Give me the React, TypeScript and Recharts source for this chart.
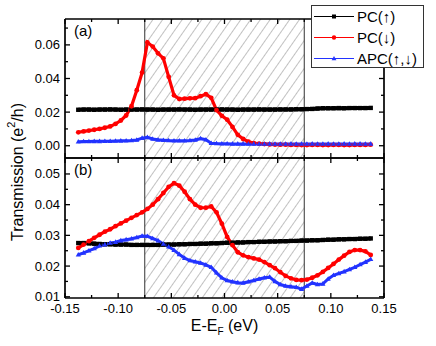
import React from "react";
import { LineChart, Line, XAxis, YAxis, ReferenceArea, ReferenceLine, Legend } from "recharts";

// energy grid (eV)
const energy = [
  -0.1375, -0.1325, -0.1275, -0.1225, -0.1175, -0.1125, -0.1075, -0.1025, -0.0975, -0.0925,
  -0.0875, -0.0825, -0.0775, -0.0725, -0.0675, -0.0625, -0.0575, -0.0525, -0.0475, -0.0425,
  -0.0375, -0.0325, -0.0275, -0.0225, -0.0175, -0.0125, -0.0075, -0.0025, 0.0025, 0.0075,
  0.0125, 0.0175, 0.0225, 0.0275, 0.0325, 0.0375, 0.0425, 0.0475, 0.0525, 0.0575,
  0.0625, 0.0675, 0.0725, 0.0775, 0.0825, 0.0875, 0.0925, 0.0975, 0.1025, 0.1075,
  0.1125, 0.1175, 0.1225, 0.1275, 0.1325, 0.1375,
];

// panel (a)
const pcUpA = [
  0.0214, 0.0215, 0.0215, 0.0214, 0.0215, 0.0215, 0.0216, 0.0215, 0.0214, 0.0215,
  0.0215, 0.0215, 0.0216, 0.0215, 0.0215, 0.0214, 0.0215, 0.0215, 0.0215, 0.0216,
  0.0215, 0.0215, 0.0214, 0.0215, 0.0215, 0.0215, 0.0215, 0.0216, 0.0215, 0.0215,
  0.0214, 0.0215, 0.0215, 0.0215, 0.0216, 0.0215, 0.0215, 0.0215, 0.0216, 0.0216,
  0.0216, 0.0217, 0.0217, 0.0218, 0.0219, 0.0221, 0.0223, 0.0223, 0.0223, 0.0224,
  0.0223, 0.0224, 0.0224, 0.0224, 0.0224, 0.0225,
];
const pcDownA = [
  0.008, 0.0085, 0.009, 0.0095, 0.01, 0.0107, 0.0115, 0.013, 0.015, 0.018,
  0.0235, 0.033, 0.0435, 0.0615, 0.059, 0.055, 0.052, 0.041, 0.03, 0.0278,
  0.028, 0.0282, 0.0283, 0.0295, 0.0307, 0.0285, 0.0212, 0.0178, 0.0155, 0.0112,
  0.0065, 0.004, 0.0024, 0.0016, 0.0012, 0.001, 0.0008, 0.0007, 0.0006, 0.0006,
  0.0005, 0.0005, 0.0004, 0.0004, 0.0005, 0.0005, 0.0004, 0.0004, 0.0005, 0.0005,
  0.0004, 0.0004, 0.0005, 0.0005, 0.0005, 0.0006,
];
const apcA = [
  0.0024, 0.0025, 0.0025, 0.0026, 0.0026, 0.0027, 0.0027, 0.0028, 0.0029, 0.003,
  0.0031, 0.0034, 0.0045, 0.005, 0.004, 0.0035, 0.0033, 0.0031, 0.003, 0.003,
  0.003, 0.0031, 0.0034, 0.0043, 0.0036, 0.0015, 0.0013, 0.0012, 0.0012, 0.0011,
  0.0011, 0.0011, 0.001, 0.0011, 0.001, 0.001, 0.0011, 0.001, 0.001, 0.001,
  0.0011, 0.001, 0.001, 0.001, 0.0011, 0.001, 0.001, 0.0011, 0.001, 0.001,
  0.0011, 0.001, 0.0011, 0.0011, 0.001, 0.0011,
];

// panel (b)
const pcUpB = [
  0.0275, 0.0275, 0.0274, 0.0273, 0.0272, 0.0271, 0.0271, 0.027, 0.027, 0.027,
  0.0269, 0.0269, 0.0269, 0.0269, 0.0269, 0.0269, 0.027, 0.027, 0.027, 0.0271,
  0.0271, 0.0272, 0.0272, 0.0273, 0.0273, 0.0274, 0.0274, 0.0275, 0.0276, 0.0276,
  0.0277, 0.0277, 0.0278, 0.0278, 0.0279, 0.0279, 0.028, 0.028, 0.0281, 0.0281,
  0.0282, 0.0282, 0.0283, 0.0283, 0.0284, 0.0284, 0.0285, 0.0286, 0.0286, 0.0287,
  0.0287, 0.0288, 0.0288, 0.0289, 0.0289, 0.029,
];
const pcDownB = [
  0.0259, 0.027, 0.0281, 0.0292, 0.0302, 0.0312, 0.032, 0.033, 0.0339, 0.0348,
  0.0357, 0.0366, 0.0375, 0.0386, 0.04, 0.0418, 0.0438, 0.0458, 0.047, 0.0462,
  0.0442, 0.0418, 0.04, 0.039, 0.039, 0.0394, 0.0375, 0.0338, 0.0295, 0.0268,
  0.0245, 0.0235, 0.0229, 0.0225, 0.0221, 0.0213, 0.0203, 0.0193, 0.018, 0.0168,
  0.016, 0.0155, 0.0154, 0.0156, 0.0162, 0.017, 0.0181, 0.0194, 0.0207, 0.0221,
  0.0234, 0.0246, 0.0252, 0.0252, 0.0248, 0.0236,
];
const apcB = [
  0.0237, 0.0243, 0.025, 0.0257, 0.0266, 0.027, 0.0275, 0.0278, 0.0283, 0.0286,
  0.0289, 0.0293, 0.0298, 0.0297, 0.029, 0.0283, 0.0272, 0.0263, 0.0252, 0.0238,
  0.0226, 0.0218, 0.0214, 0.021, 0.0204, 0.0196, 0.0178, 0.0162, 0.0153, 0.0149,
  0.0146, 0.0145, 0.0149, 0.0153, 0.0158, 0.0162, 0.0164, 0.015, 0.014, 0.0135,
  0.0133, 0.0131, 0.0125, 0.0135, 0.0145, 0.014, 0.0142, 0.0158, 0.017, 0.0176,
  0.0182, 0.0189, 0.0196, 0.0205, 0.0213, 0.0222,
];

const seriesNames = ["PC(\u2191)", "PC(\u2193)", "APC(\u2191,\u2193)"];
const seriesColors = ["#000000", "#ff0000", "#2233ff"];

const xTicks = [-0.15, -0.125, -0.1, -0.075, -0.05, -0.025, 0, 0.025, 0.05, 0.075, 0.1, 0.125, 0.15];
const xMajors = [-0.15, -0.1, -0.05, 0, 0.05, 0.1, 0.15];
const yTicksA = [0, 0.01, 0.02, 0.03, 0.04, 0.05, 0.06, 0.07];
const yMajorsA = [0, 0.02, 0.04, 0.06];
const yTicksB = [0.01, 0.015, 0.02, 0.025, 0.03, 0.035, 0.04, 0.045, 0.05];
const yMajorsB = [0.01, 0.02, 0.03, 0.04, 0.05];
const band = [-0.075, 0.075];

const FONT = '"Liberation Sans", Arial, Helvetica, sans-serif';
const W = 436;
const H = 346;

const rows = (up: number[], down: number[], apc: number[]) =>
  energy.map((e, i) => ({ e, up: up[i], down: down[i], apc: apc[i] }));
const dataA = rows(pcUpA, pcDownA, apcA);
const dataB = rows(pcUpB, pcDownB, apcB);

// markers
const Square = (p: any) =>
  p.cx == null ? null : <rect key={p.index} x={p.cx - 2.2} y={p.cy - 2.2} width={4.4} height={4.4} fill={seriesColors[0]} />;
const Dot = (p: any) =>
  p.cx == null ? null : <circle key={p.index} cx={p.cx} cy={p.cy} r={2.4} fill={seriesColors[1]} />;
const Tri = (p: any) =>
  p.cx == null ? null : (
    <path key={p.index} d={`M${p.cx},${p.cy - 2.8}L${p.cx + 2.6},${p.cy + 1.8}L${p.cx - 2.6},${p.cy + 1.8}Z`} fill={seriesColors[2]} />
  );

// inward ticks, long at majors, short otherwise
const makeTick = (side: string, majors: number[], withText: boolean) => (p: any) => {
  const { x, y, payload } = p;
  const v = payload.value;
  const major = majors.some((m) => Math.abs(m - v) < 1e-9);
  const len = major ? 5 : 3;
  let ln;
  let txt = null;
  if (side === "left") {
    ln = <line x1={x} x2={x + len} y1={y} y2={y} />;
    if (withText && major)
      txt = <text x={x - 5} y={y + 4.5} textAnchor="end">{v.toFixed(2)}</text>;
  } else if (side === "right") {
    ln = <line x1={x} x2={x - len} y1={y} y2={y} />;
  } else if (side === "top") {
    ln = <line x1={x} x2={x} y1={y} y2={y + len} />;
  } else {
    ln = <line x1={x} x2={x} y1={y} y2={y - len} />;
    if (withText && major)
      txt = <text x={x} y={y + 15} textAnchor="middle">{v.toFixed(2)}</text>;
  }
  return (
    <g stroke="none" fill="#000" fontFamily={FONT} fontSize={13}>
      <g stroke="#000" strokeWidth={1.3}>{ln}</g>
      {txt}
    </g>
  );
};

const axisLine = { stroke: "#000", strokeWidth: 1.7 };

const panelTag = (tag: string) => (p: any) => (
  <text x={p.viewBox.x + 9} y={p.viewBox.y + p.viewBox.height + 17} fontFamily={FONT} fontSize={15} fill="#000">
    {tag}
  </text>
);

const yTitle = () => (
  <text x={17} y={172} transform="rotate(-90 17 172)" textAnchor="middle" dominantBaseline="central" fontFamily={FONT} fontSize={16} fill="#000">
    Transmission (e<tspan dy={-6} fontSize={11}>2</tspan>
    <tspan dy={6}>/h)</tspan>
  </text>
);

const xTitle = (p: any) => (
  <text x={p.viewBox.x + p.viewBox.width / 2} y={p.viewBox.y + 33} textAnchor="middle" fontFamily={FONT} fontSize={16} fill="#000">
    E-E<tspan dy={4} fontSize={10}>F</tspan>
    <tspan dy={-4}> (eV)</tspan>
  </text>
);

const LegendBox = () => (
  <div style={{ background: "#fff", border: "1px solid #333", width: 111, height: 61, fontFamily: FONT, fontSize: 15, color: "#000" }}>
    {seriesNames.map((n, i) => (
      <div key={n} style={{ display: "flex", alignItems: "center", height: 21 }}>
        <svg width={44} height={21} style={{ display: "block" }}>
          <line x1={2} x2={42} y1={10.5} y2={10.5} stroke={seriesColors[i]} strokeWidth={1} />
          {i === 0 && <rect x={20} y={8.5} width={4} height={4} fill={seriesColors[0]} />}
          {i === 1 && <circle cx={22} cy={10.5} r={2.2} fill={seriesColors[1]} />}
          {i === 2 && <path d="M22,8 L24.4,12.2 L19.6,12.2 Z" fill={seriesColors[2]} />}
        </svg>
        <span style={{ marginLeft: 1, whiteSpace: "nowrap" }}>{n}</span>
      </div>
    ))}
  </div>
);

const Hatch = () => (
  <svg width={0} height={0} style={{ position: "absolute" }}>
    <defs>
      <pattern id="hatch" width={8} height={8} patternUnits="userSpaceOnUse" patternTransform="rotate(35)">
        <line x1={0} y1={0} x2={0} y2={8} stroke="#5a5a5a" strokeWidth={0.75} />
      </pattern>
    </defs>
  </svg>
);

const renderLines = () => [
  <Line key="up" xAxisId="b" yAxisId="l" type="linear" dataKey="up" name={seriesNames[0]} stroke={seriesColors[0]} strokeWidth={4} dot={Square} activeDot={false} isAnimationActive={false} />,
  <Line key="down" xAxisId="b" yAxisId="l" type="linear" dataKey="down" name={seriesNames[1]} stroke={seriesColors[1]} strokeWidth={3.2} dot={Dot} activeDot={false} isAnimationActive={false} />,
  <Line key="apc" xAxisId="b" yAxisId="l" type="linear" dataKey="apc" name={seriesNames[2]} stroke={seriesColors[2]} strokeWidth={3} dot={Tri} activeDot={false} isAnimationActive={false} />,
];

const renderBand = () => [
  <ReferenceArea key="area" xAxisId="b" yAxisId="l" x1={band[0]} x2={band[1]} fill="url(#hatch)" fillOpacity={1} stroke="none" />,
  <ReferenceLine key="l0" xAxisId="b" yAxisId="l" x={band[0]} stroke="#333" strokeWidth={1} />,
  <ReferenceLine key="l1" xAxisId="b" yAxisId="l" x={band[1]} stroke="#333" strokeWidth={1} />,
];

export default function App() {
  return (
    <div style={{ position: "absolute", left: 0, top: 0, width: W, height: H, background: "#fff", fontFamily: FONT }}>
      <Hatch />
      <div style={{ position: "absolute", left: 0, top: 0 }}>
        <LineChart width={W} height={H} data={dataA} margin={{ top: 14, right: 47, bottom: 183, left: 0 }}>
          <XAxis xAxisId="b" dataKey="e" type="number" domain={[-0.15, 0.15]} ticks={xTicks} interval={0} allowDataOverflow orientation="bottom" height={5} axisLine={axisLine} tickLine={false} tickSize={0} tickMargin={0} tick={makeTick("bottom", xMajors, false)} />
          <XAxis xAxisId="t" dataKey="e" type="number" domain={[-0.15, 0.15]} ticks={xTicks} interval={0} allowDataOverflow orientation="top" height={5} axisLine={axisLine} tickLine={false} tickSize={0} tickMargin={0} tick={makeTick("top", xMajors, false)} label={panelTag("(a)")} />
          <YAxis yAxisId="l" type="number" domain={[-0.0073, 0.0754]} ticks={yTicksA} interval={0} allowDataOverflow orientation="left" width={65} axisLine={axisLine} tickLine={false} tickSize={0} tickMargin={0} tick={makeTick("left", yMajorsA, true)} />
          <YAxis yAxisId="r" type="number" domain={[-0.0073, 0.0754]} ticks={yTicksA} interval={0} allowDataOverflow orientation="right" width={5} axisLine={axisLine} tickLine={false} tickSize={0} tickMargin={0} tick={makeTick("right", yMajorsA, false)} />
          {renderBand()}
          {renderLines()}
          <Legend layout="vertical" align="center" verticalAlign="middle" content={() => <LegendBox />} wrapperStyle={{ left: 311, top: 5, width: 113, height: 63 }} />
        </LineChart>
      </div>
      <div style={{ position: "absolute", left: 0, top: 0 }}>
        <LineChart width={W} height={H} data={dataB} margin={{ top: 153, right: 47, bottom: 18, left: 0 }}>
          <XAxis xAxisId="b" dataKey="e" type="number" domain={[-0.15, 0.15]} ticks={xTicks} interval={0} allowDataOverflow orientation="bottom" height={30} axisLine={axisLine} tickLine={false} tickSize={0} tickMargin={0} tick={makeTick("bottom", xMajors, true)} label={xTitle} />
          <XAxis xAxisId="t" dataKey="e" type="number" domain={[-0.15, 0.15]} ticks={xTicks} interval={0} allowDataOverflow orientation="top" height={5} axisLine={axisLine} tickLine={false} tickSize={0} tickMargin={0} tick={makeTick("top", xMajors, false)} label={panelTag("(b)")} />
          <YAxis yAxisId="l" type="number" domain={[0.0096, 0.0552]} ticks={yTicksB} interval={0} allowDataOverflow orientation="left" width={65} axisLine={axisLine} tickLine={false} tickSize={0} tickMargin={0} tick={makeTick("left", yMajorsB, true)} label={yTitle} />
          <YAxis yAxisId="r" type="number" domain={[0.0096, 0.0552]} ticks={yTicksB} interval={0} allowDataOverflow orientation="right" width={5} axisLine={axisLine} tickLine={false} tickSize={0} tickMargin={0} tick={makeTick("right", yMajorsB, false)} />
          {renderBand()}
          {renderLines()}
        </LineChart>
      </div>
    </div>
  );
}
